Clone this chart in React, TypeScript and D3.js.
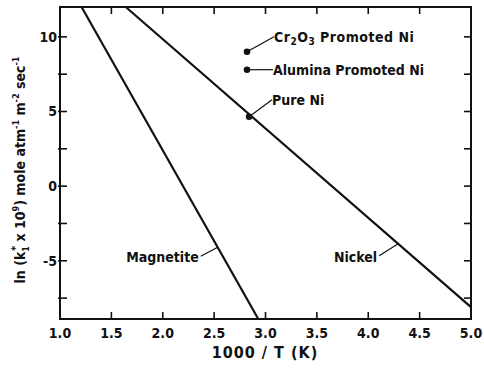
import React from 'react';
import * as d3 from 'd3';

// lines, [1000/T, ln k]
const magnetite: [number, number][] = [[1.21, 12], [2.93, -8.9]];
const nickel: [number, number][] = [[1.64, 12], [5.0, -8.1]];

const pointNames = ['Cr2O3', 'Alumina', 'Pure'];
const pointX = [2.82, 2.82, 2.84];
const pointY = [9.0, 7.8, 4.65];

const xTicks = [1.0, 1.5, 2.0, 2.5, 3.0, 3.5, 4.0, 4.5, 5.0];
const yLabels = [10, 5, 0, -5];
const yTicks = [-7.5, -5, -2.5, 0, 2.5, 5, 7.5, 10];

const W = 484;
const H = 368;
const font = '"Liberation Sans Narrow", "DejaVu Sans Condensed", "Liberation Sans", sans-serif';

const App = () => {
  const x = d3.scaleLinear().domain([1, 5]).range([60, 471]);
  const y = d3.scaleLinear().domain([-8.9, 12]).range([319, 7]);
  const line = d3.line<[number, number]>().x(d => x(d[0])).y(d => y(d[1]));

  const [x0, x1] = x.range();
  const [y0, y1] = y.range();
  const tk = 7;

  // where the leaders touch the lines
  const magY = -4.1;
  const magX = magnetite[0][0] + (magnetite[0][1] - magY) * (magnetite[1][0] - magnetite[0][0]) / (magnetite[0][1] - magnetite[1][1]);
  const niY = -3.86;
  const niX = nickel[0][0] + (nickel[0][1] - niY) * (nickel[1][0] - nickel[0][0]) / (nickel[0][1] - nickel[1][1]);

  const px = pointX.map(v => x(v));
  const py = pointY.map(v => y(v));

  return (
    <svg width={W} height={H} style={{ position: 'absolute', left: 0, top: 0, background: '#fff' }}
      fontFamily={font} fontWeight="bold" fill="#111">
      {/* frame */}
      <rect x={x0} y={y1} width={x1 - x0} height={y0 - y1} fill="none" stroke="#111" strokeWidth={2} />

      {/* ticks */}
      {xTicks.slice(1, -1).map(t => (
        <g key={'xt' + t} stroke="#111" strokeWidth={1.6}>
          <line x1={x(t)} x2={x(t)} y1={y0} y2={y0 - tk} />
          <line x1={x(t)} x2={x(t)} y1={y1} y2={y1 + tk} />
        </g>
      ))}
      {yTicks.map(t => (
        <g key={'yt' + t} stroke="#111" strokeWidth={1.6}>
          <line x1={x0 - 2} x2={x0 + tk} y1={y(t)} y2={y(t)} />
          <line x1={x1} x2={x1 - tk} y1={y(t)} y2={y(t)} />
        </g>
      ))}

      {/* tick labels */}
      {xTicks.map(t => (
        <text key={'xl' + t} x={x(t)} y={338} textAnchor="middle" fontSize={14}>{t.toFixed(1)}</text>
      ))}
      {yLabels.map(t => (
        <text key={'yl' + t} x={x0 - 3} y={y(t)} dy="0.35em" textAnchor="end" fontSize={14}>
          {t < 0 ? '-' + Math.abs(t) : t}
        </text>
      ))}

      {/* axis titles */}
      <text x={265} y={358} textAnchor="middle" fontSize={16} letterSpacing={1}>1000 / T (K)</text>
      <text transform="translate(25,170) rotate(-90)" textAnchor="middle" fontSize={14}>
        ln (k<tspan fontSize={9} dy={4}>1</tspan><tspan fontSize={11} dx={-5} dy={-10}>*</tspan>
        <tspan dy={6}> x 10</tspan><tspan fontSize={9} dy={-6}>9</tspan>
        <tspan dy={6}>) mole atm</tspan><tspan fontSize={9} dy={-6}>-1</tspan>
        <tspan dy={6}> m</tspan><tspan fontSize={9} dy={-6}>-2</tspan>
        <tspan dy={6}> sec</tspan><tspan fontSize={9} dy={-6}>-1</tspan>
      </text>

      {/* lines */}
      <path d={line(magnetite) ?? ''} fill="none" stroke="#111" strokeWidth={2.2} />
      <path d={line(nickel) ?? ''} fill="none" stroke="#111" strokeWidth={2.2} />

      {/* line labels */}
      <line x1={x(magX)} y1={y(magY)} x2={x(magX) - 17} y2={y(magY) + 9} stroke="#111" strokeWidth={1.2} />
      <text x={x(magX) - 19} y={y(magY) + 10} dy="0.35em" textAnchor="end" fontSize={14}>Magnetite</text>
      <line x1={x(niX)} y1={y(niY)} x2={x(niX) - 19} y2={y(niY) + 12} stroke="#111" strokeWidth={1.2} />
      <text x={x(niX) - 21} y={y(niY) + 13} dy="0.35em" textAnchor="end" fontSize={14}>Nickel</text>

      {/* points */}
      {pointNames.map((n, i) => (
        <circle key={n} cx={px[i]} cy={py[i]} r={3.3} fill="#111" />
      ))}
      <line x1={px[0]} y1={py[0]} x2={px[0] + 27} y2={py[0] - 15} stroke="#111" strokeWidth={1.2} />
      <text x={px[0] + 27} y={py[0] - 15} dy="0.35em" fontSize={14} letterSpacing={0.5}>
        Cr<tspan fontSize={10} dy={3}>2</tspan><tspan dy={-3}>O</tspan><tspan fontSize={10} dy={3}>3</tspan>
        <tspan dy={-3}> Promoted Ni</tspan>
      </text>
      <line x1={px[1]} y1={py[1]} x2={px[1] + 26} y2={py[1]} stroke="#111" strokeWidth={1.2} />
      <text x={px[1] + 26} y={py[1]} dy="0.35em" fontSize={14}>Alumina Promoted Ni</text>
      <line x1={px[2]} y1={py[2]} x2={px[2] + 23} y2={py[2] - 17} stroke="#111" strokeWidth={1.2} />
      <text x={px[2] + 23} y={py[2] - 17} dy="0.35em" fontSize={14}>Pure Ni</text>
    </svg>
  );
};

export default App;
